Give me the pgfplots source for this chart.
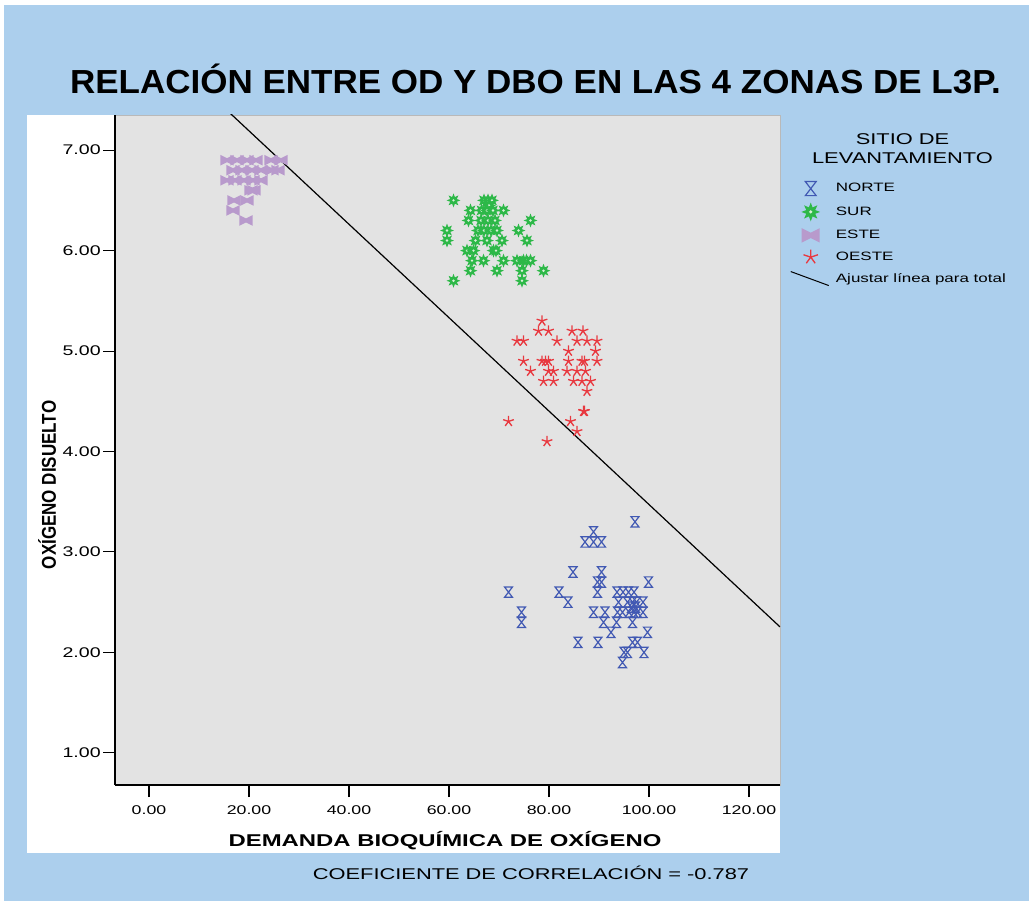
\documentclass[border=0pt]{standalone}
\usepackage{fontspec}
\setmainfont{Liberation Sans}
\newfontfamily\widefont[FakeStretch=1.4]{Liberation Sans}
\newfontfamily\condfont[FakeStretch=0.85]{Liberation Sans}
\newfontfamily\titlefont[FakeStretch=1.05]{Liberation Sans}
\usepackage{pgfplots}
\pgfplotsset{compat=1.18}

\definecolor{bgblue}{HTML}{ACCFED}
\definecolor{plotgrey}{HTML}{E3E3E3}
\definecolor{norte}{HTML}{4159B3}
\definecolor{sur}{HTML}{2DB848}
\definecolor{surc}{HTML}{D8F0D8}
\definecolor{este}{HTML}{B89ACC}
\definecolor{oeste}{HTML}{E8383F}

\pgfdeclareplotmark{hourglass}{%
  \pgfpathmoveto{\pgfqpoint{-3pt}{3.9pt}}%
  \pgfpathlineto{\pgfqpoint{3pt}{3.9pt}}%
  \pgfpathlineto{\pgfqpoint{-3pt}{-3.9pt}}%
  \pgfpathlineto{\pgfqpoint{3pt}{-3.9pt}}%
  \pgfpathclose
  \pgfusepathqstroke}

\pgfdeclareplotmark{star8}{%
  \pgfpathmoveto{\pgfpointpolar{90}{5.2pt}}%
  \pgfpathlineto{\pgfpointpolar{112.5}{2.7pt}}%
  \pgfpathlineto{\pgfpointpolar{135}{5.2pt}}%
  \pgfpathlineto{\pgfpointpolar{157.5}{2.7pt}}%
  \pgfpathlineto{\pgfpointpolar{180}{5.2pt}}%
  \pgfpathlineto{\pgfpointpolar{202.5}{2.7pt}}%
  \pgfpathlineto{\pgfpointpolar{225}{5.2pt}}%
  \pgfpathlineto{\pgfpointpolar{247.5}{2.7pt}}%
  \pgfpathlineto{\pgfpointpolar{270}{5.2pt}}%
  \pgfpathlineto{\pgfpointpolar{292.5}{2.7pt}}%
  \pgfpathlineto{\pgfpointpolar{315}{5.2pt}}%
  \pgfpathlineto{\pgfpointpolar{337.5}{2.7pt}}%
  \pgfpathlineto{\pgfpointpolar{0}{5.2pt}}%
  \pgfpathlineto{\pgfpointpolar{22.5}{2.7pt}}%
  \pgfpathlineto{\pgfpointpolar{45}{5.2pt}}%
  \pgfpathlineto{\pgfpointpolar{67.5}{2.7pt}}%
  \pgfpathclose
  \pgfusepathqfill
  \begin{pgfscope}\pgfsetfillcolor{surc}\pgfpathcircle{\pgfpointorigin}{1pt}\pgfusepathqfill\end{pgfscope}}

\pgfdeclareplotmark{bowtie}{%
  \pgfpathmoveto{\pgfqpoint{-5pt}{4pt}}%
  \pgfpathlineto{\pgfqpoint{0pt}{1.5pt}}%
  \pgfpathlineto{\pgfqpoint{5pt}{4pt}}%
  \pgfpathlineto{\pgfqpoint{5pt}{-4pt}}%
  \pgfpathlineto{\pgfqpoint{0pt}{-1.5pt}}%
  \pgfpathlineto{\pgfqpoint{-5pt}{-4pt}}%
  \pgfpathclose
  \pgfusepathqfill}

\pgfplotsset{
  markimg/.style={legend image code/.code={%
    \path[draw=none,fill=none] (0pt,-5.25pt) rectangle (28.5pt,5.25pt);
    \draw[##1, only marks, mark options={scale=1.35}] plot coordinates {(15pt,0pt)};}},
}

\begin{document}
\begin{tikzpicture}
\begin{scope}[x=0.75pt,y=0.75pt]
\path[use as bounding box] (0,0) rectangle (1029,901);
\fill[white] (0,0) rectangle (1029,901);
\fill[bgblue] (4,0) rectangle (1029,896);
\fill[white] (27,48) rectangle (780,786);
\end{scope}

\begin{axis}[
  at={(86.25pt,87pt)}, anchor=south west,
  scale only axis, width=498.75pt, height=502.5pt,
  xmin=-6.8, xmax=126.2, ymin=0.68, ymax=7.35,
  axis x line*=bottom, axis y line*=left,
  axis line style={-, black, line width=0.9pt},
  axis background/.style={fill=plotgrey, draw=gray!55, line width=0.5pt},
  tick align=outside, major tick length=9pt,
  tick style={black, line width=0.8pt},
  xtick={0,20,...,120}, ytick={1,2,...,7},
  minor tick num=0,
  xticklabel style={font=\widefont\fontsize{9.5}{11}\selectfont, inner sep=2pt, yshift=-4.5pt},
  yticklabel style={font=\widefont\fontsize{10.5}{12}\selectfont, inner sep=1.5pt},
  /pgf/number format/fixed, /pgf/number format/fixed zerofill,
  /pgf/number format/precision=2, /pgf/number format/assume math mode=true,
  legend style={at={(1.015,0.901)}, anchor=north west, draw=none, fill=none,
    inner sep=0pt, row sep=5.2pt, column sep=5pt, nodes={inner sep=0pt},
    font=\widefont\fontsize{9.1}{11}\selectfont},
  legend cell align=left,
]
% NORTE
\addplot[only marks, mark=hourglass, color=norte, line width=0.9pt, markimg] coordinates {
(97.2,3.3) (88.9,3.2) (87.2,3.1) (88.9,3.1) (90.5,3.1)
(84.8,2.8) (90.5,2.8) (89.7,2.7) (90.5,2.7) (99.9,2.7)
(71.9,2.6) (82.0,2.6) (89.7,2.6) (93.6,2.6) (94.8,2.6) (95.9,2.6) (97.0,2.6)
(83.8,2.5) (93.9,2.5) (95.7,2.5) (96.7,2.5) (97.5,2.5) (98.8,2.5)
(74.5,2.4) (88.9,2.4) (91.2,2.4) (93.7,2.4) (94.7,2.4) (96.0,2.4) (97.0,2.4) (97.7,2.4) (98.8,2.4) (96.5,2.45) (97.3,2.45)
(74.5,2.3) (90.9,2.3) (93.5,2.3) (96.7,2.3)
(92.4,2.2) (99.7,2.2)
(85.8,2.1) (89.8,2.1) (96.7,2.1) (97.7,2.1)
(95.0,2.0) (95.7,2.0) (99.0,2.0)
(94.7,1.9)
};
% SUR
\addplot[only marks, mark=star8, color=sur, markimg] coordinates {
(60.9,6.5) (64.3,6.4) (59.6,6.2) (59.6,6.1)
(67.0,6.5) (67.8,6.5) (68.6,6.5) (68.0,6.45)
(66.5,6.4) (67.6,6.4) (68.8,6.4) (70.9,6.4)
(63.9,6.3) (66.4,6.3) (67.8,6.3) (69.2,6.3) (76.3,6.3)
(65.8,6.2) (67.0,6.2) (68.4,6.2) (69.6,6.2) (73.9,6.2)
(65.3,6.1) (67.6,6.1) (70.6,6.1) (75.6,6.1)
(63.6,6.0) (64.9,6.0) (68.9,6.0) (69.4,6.0)
(64.6,5.9) (66.9,5.9) (70.9,5.9) (73.6,5.9) (74.9,5.9) (75.5,5.9) (76.3,5.9)
(64.3,5.8) (69.6,5.8) (74.6,5.8) (78.9,5.8)
(60.9,5.7) (74.6,5.7)
};
% ESTE
\addplot[only marks, mark=bowtie, color=este, markimg] coordinates {
(15.6,6.9) (17.6,6.9) (19.6,6.9) (21.4,6.9) (24.4,6.9) (26.4,6.9)
(16.8,6.8) (18.6,6.8) (20.6,6.8) (22.4,6.8) (24.6,6.8) (25.8,6.8)
(15.6,6.7) (17.2,6.7) (19.0,6.7) (20.8,6.7) (22.4,6.7)
(20.4,6.6) (21.0,6.6)
(17.0,6.5) (19.6,6.5)
(16.8,6.4)
(19.4,6.3)
};
% OESTE
\addplot[only marks, mark=star, mark size=4.2pt, color=oeste, line width=1pt, markimg] coordinates {
(78.6,5.3) (77.9,5.2) (79.9,5.2) (84.6,5.2) (86.8,5.2)
(73.6,5.1) (74.9,5.1) (81.6,5.1) (85.6,5.1) (87.6,5.1) (89.6,5.1)
(83.9,5.0) (89.3,5.0)
(74.9,4.9) (78.6,4.9) (79.3,4.9) (79.9,4.9) (83.9,4.9) (86.6,4.9) (87.1,4.9) (89.6,4.9)
(76.3,4.8) (79.9,4.8) (80.9,4.8) (83.6,4.8) (85.6,4.8) (87.3,4.8)
(78.9,4.7) (80.9,4.7) (84.9,4.7) (86.6,4.7) (88.3,4.7)
(87.6,4.6) (86.9,4.4) (87.1,4.4) (71.9,4.3) (84.3,4.3) (85.6,4.2) (79.6,4.1)
};
% Fit line
\addplot[black, line width=0.9pt, legend image code/.code={%
    \path[draw=none,fill=none] (0pt,-5.25pt) rectangle (28.5pt,5.25pt);
    \draw[black, line width=0.75pt] (0pt,5.25pt) -- (28.5pt,-5.25pt);}]
  coordinates {(0,8.122) (126.2,2.254)};
\legend{NORTE,SUR,ESTE,OESTE,Ajustar línea para total}
\end{axis}

\begin{scope}[x=0.75pt,y=0.75pt]
\node[anchor=base, font=\titlefont\bfseries\fontsize{25}{30}\selectfont] at (535.5,807) {RELACIÓN ENTRE OD Y DBO EN LAS 4 ZONAS DE L3P.};
\node[anchor=base, font=\widefont\bfseries\fontsize{12.8}{15}\selectfont] at (445,55) {DEMANDA BIOQUÍMICA DE OXÍGENO};
\node[anchor=base, font=\widefont\fontsize{11.7}{14}\selectfont] at (531,22) {COEFICIENTE DE CORRELACIÓN = -0.787};
\node[anchor=base, rotate=90, font=\condfont\bfseries\fontsize{15}{18}\selectfont] at (56,416) {OXÍGENO DISUELTO};
\node[anchor=base, font=\widefont\fontsize{11.7}{14}\selectfont] at (902.5,756) {SITIO DE};
\node[anchor=base, font=\widefont\fontsize{11.7}{14}\selectfont] at (902.5,737.7) {LEVANTAMIENTO};
\end{scope}
\end{tikzpicture}
\end{document}
